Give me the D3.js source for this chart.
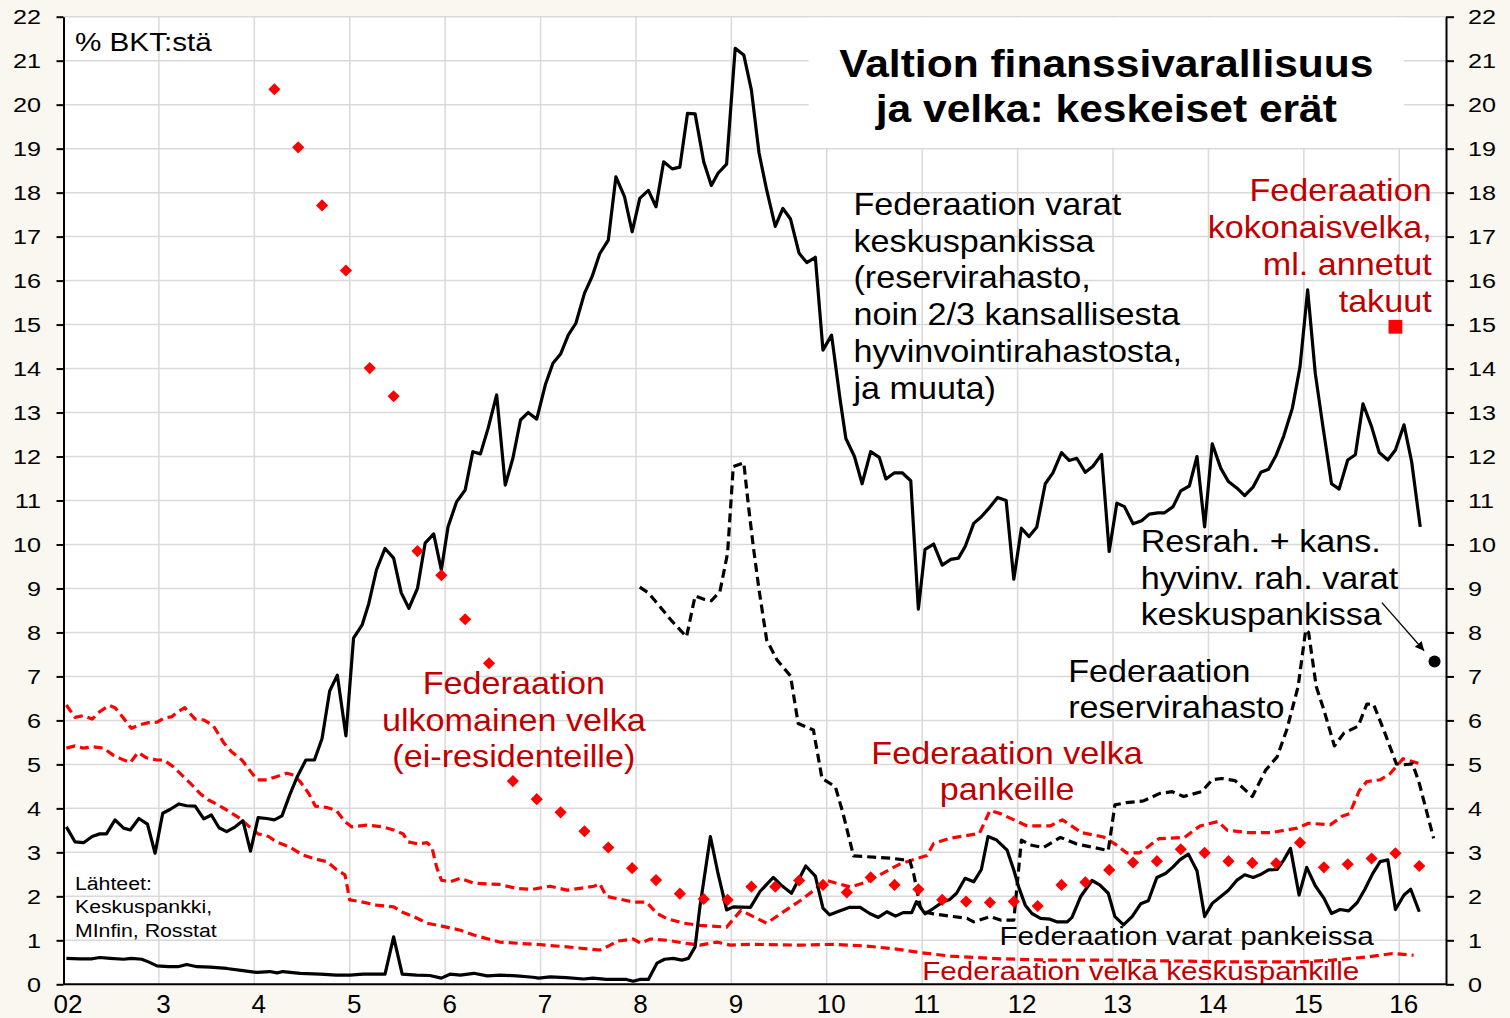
<!DOCTYPE html>
<meta charset="utf-8">
<html>
<head>
<style>
  body { margin: 0; background: #faf6f0; }
  svg { display: block; font-family: 'Liberation Sans', Arial, sans-serif; }
  .grid line { stroke: #d9d9d9; stroke-width: 1.5; }
  .axis path, .axis line { stroke: #000; stroke-width: 2; }
  .axis text { fill: #000; }
</style>
</head>
<body>
<svg id="chart"></svg>
<script src="https://cdn.jsdelivr.net/npm/d3@7/dist/d3.min.js"></script>
<script>

// --- data (year as decimal, % of GDP) ---
var xTickYears = [2002, 2003, 2004, 2005, 2006, 2007, 2008, 2009, 2010, 2011, 2012, 2013, 2014, 2015, 2016];
var xTickLabels = ["02", "3", "4", "5", "6", "7", "8", "9", "10", "11", "12", "13", "14", "15", "16"];
var yTicks = [0, 1, 2, 3, 4, 5, 6, 7, 8, 9, 10, 11, 12, 13, 14, 15, 16, 17, 18, 19, 20, 21, 22];

// Federaation varat keskuspankissa
var varatKeskuspankissa = [
  [2002.03,3.58],[2002.12,3.24],[2002.21,3.22],[2002.30,3.36],[2002.38,3.42],[2002.45,3.42],[2002.54,3.74],[2002.63,3.55],
  [2002.70,3.51],[2002.79,3.77],[2002.88,3.64],[2002.96,2.98],[2003.04,3.89],[2003.12,3.98],[2003.21,4.10],[2003.29,4.06],
  [2003.38,4.05],[2003.47,3.76],[2003.55,3.85],[2003.63,3.56],[2003.71,3.47],[2003.80,3.58],[2003.88,3.72],[2003.96,3.03],
  [2004.04,3.79],[2004.13,3.77],[2004.21,3.74],[2004.29,3.83],[2004.37,4.30],[2004.45,4.72],[2004.54,5.10],[2004.63,5.10],
  [2004.71,5.59],[2004.79,6.67],[2004.87,7.03],[2004.96,5.65],[2005.04,7.87],[2005.13,8.17],[2005.20,8.66],[2005.28,9.42],
  [2005.37,9.91],[2005.46,9.69],[2005.54,8.90],[2005.62,8.55],[2005.71,9.00],[2005.79,10.03],[2005.88,10.24],[2005.96,9.42],
  [2006.03,10.40],[2006.12,10.97],[2006.21,11.24],[2006.29,12.11],[2006.37,12.06],[2006.45,12.64],[2006.54,13.40],[2006.63,11.35],
  [2006.71,11.96],[2006.79,12.83],[2006.87,13.00],[2006.96,12.85],[2007.05,13.63],[2007.13,14.12],[2007.21,14.33],[2007.29,14.76],
  [2007.37,15.03],[2007.46,15.71],[2007.54,16.09],[2007.62,16.61],[2007.71,16.92],[2007.79,18.36],[2007.88,17.91],[2007.96,17.11],
  [2008.04,17.87],[2008.13,18.05],[2008.21,17.68],[2008.29,18.70],[2008.38,18.54],[2008.46,18.58],[2008.54,19.80],[2008.62,19.79],
  [2008.71,18.70],[2008.79,18.16],[2008.86,18.44],[2008.95,18.65],[2009.04,21.28],[2009.13,21.13],[2009.21,20.33],[2009.29,18.90],
  [2009.37,18.06],[2009.46,17.23],[2009.54,17.64],[2009.62,17.40],[2009.71,16.62],[2009.79,16.41],[2009.88,16.53],[2009.96,14.42],
  [2010.05,14.76],[2010.14,13.29],[2010.20,12.41],[2010.29,12.00],[2010.37,11.38],[2010.46,12.11],[2010.55,11.98],[2010.62,11.49],
  [2010.71,11.63],[2010.79,11.63],[2010.88,11.45],[2010.96,8.53],[2011.03,9.89],[2011.12,10.01],[2011.21,9.53],[2011.30,9.66],
  [2011.38,9.69],[2011.45,9.95],[2011.54,10.48],[2011.62,10.63],[2011.71,10.85],[2011.79,11.07],[2011.88,11.00],[2011.96,9.21],
  [2012.04,10.37],[2012.12,10.18],[2012.20,10.39],[2012.29,11.38],[2012.37,11.63],[2012.46,12.09],[2012.54,11.91],[2012.62,11.96],
  [2012.71,11.64],[2012.79,11.78],[2012.88,12.05],[2012.96,9.84],[2013.04,10.94],[2013.12,10.86],[2013.21,10.47],[2013.30,10.54],
  [2013.38,10.69],[2013.47,10.72],[2013.54,10.72],[2013.63,10.86],[2013.71,11.22],[2013.80,11.33],[2013.88,12.00],[2013.96,10.40],
  [2014.04,12.29],[2014.13,11.73],[2014.21,11.43],[2014.30,11.28],[2014.38,11.11],[2014.47,11.31],[2014.55,11.64],[2014.63,11.71],
  [2014.71,12.03],[2014.79,12.47],[2014.88,13.10],[2014.96,14.04],[2015.04,15.79],[2015.12,13.89],[2015.20,12.68],[2015.29,11.38],
  [2015.37,11.26],[2015.46,11.92],[2015.54,12.04],[2015.62,13.20],[2015.71,12.68],[2015.79,12.09],[2015.88,11.92],[2015.96,12.15],
  [2016.05,12.72],[2016.13,11.88],[2016.22,10.40]
];

// Federaation varat pankeissa
var varatPankeissa = [
  [2002.03,0.59],[2002.17,0.58],[2002.30,0.58],[2002.38,0.61],[2002.49,0.59],[2002.63,0.57],[2002.71,0.59],[2002.82,0.57],
  [2002.89,0.51],[2002.98,0.42],[2003.10,0.40],[2003.20,0.40],[2003.29,0.45],[2003.40,0.40],[2003.54,0.39],[2003.71,0.36],
  [2003.88,0.31],[2004.03,0.27],[2004.16,0.29],[2004.24,0.26],[2004.30,0.29],[2004.48,0.25],[2004.69,0.23],[2004.86,0.21],
  [2005.00,0.21],[2005.14,0.23],[2005.37,0.23],[2005.46,1.08],[2005.55,0.23],[2005.70,0.21],[2005.84,0.20],[2005.96,0.14],
  [2006.05,0.23],[2006.16,0.21],[2006.30,0.25],[2006.44,0.19],[2006.58,0.21],[2006.75,0.19],[2006.92,0.16],[2006.98,0.14],
  [2007.10,0.17],[2007.27,0.15],[2007.45,0.12],[2007.55,0.14],[2007.69,0.11],[2007.90,0.11],[2007.97,0.07],[2008.04,0.11],
  [2008.13,0.11],[2008.22,0.48],[2008.30,0.57],[2008.39,0.59],[2008.48,0.55],[2008.55,0.59],[2008.62,0.85],[2008.67,1.76],
  [2008.78,3.36],[2008.86,2.52],[2008.95,1.69],[2009.02,1.76],[2009.20,1.75],[2009.30,2.11],[2009.44,2.43],[2009.53,2.24],
  [2009.63,2.07],[2009.78,2.69],[2009.88,2.46],[2009.96,1.73],[2010.03,1.58],[2010.14,1.67],[2010.24,1.75],[2010.35,1.75],
  [2010.45,1.61],[2010.54,1.52],[2010.63,1.65],[2010.72,1.55],[2010.80,1.63],[2010.89,1.63],[2010.94,1.88],[2011.03,1.60],
  [2011.12,1.73],[2011.22,1.88],[2011.29,1.93],[2011.36,2.07],[2011.45,2.41],[2011.54,2.33],[2011.62,2.61],[2011.69,3.36],
  [2011.78,3.28],[2011.89,3.05],[2011.96,2.60],[2012.01,2.22],[2012.08,1.80],[2012.15,1.61],[2012.24,1.50],[2012.34,1.48],
  [2012.41,1.42],[2012.52,1.42],[2012.57,1.52],[2012.66,1.99],[2012.78,2.36],[2012.86,2.26],[2012.95,2.07],[2013.02,1.54],
  [2013.11,1.35],[2013.20,1.54],[2013.29,1.83],[2013.37,1.90],[2013.46,2.43],[2013.55,2.52],[2013.63,2.67],[2013.70,2.83],
  [2013.79,2.96],[2013.88,2.58],[2013.96,1.54],[2014.04,1.84],[2014.12,1.98],[2014.21,2.14],[2014.30,2.37],[2014.38,2.49],
  [2014.47,2.43],[2014.54,2.49],[2014.63,2.60],[2014.72,2.61],[2014.79,2.83],[2014.86,3.09],[2014.95,2.03],[2015.03,2.66],
  [2015.12,2.24],[2015.21,1.96],[2015.29,1.61],[2015.38,1.70],[2015.47,1.67],[2015.56,1.86],[2015.64,2.16],[2015.72,2.51],
  [2015.80,2.79],[2015.88,2.83],[2015.96,1.70],[2016.05,2.03],[2016.12,2.16],[2016.21,1.65]
];

// Federaation reservirahasto
var reservirahasto = [
  [2008.04,9.03],[2008.13,8.90],[2008.25,8.59],[2008.38,8.25],[2008.53,7.90],[2008.62,8.83],[2008.72,8.75],[2008.79,8.72],
  [2008.88,8.93],[2008.96,9.80],[2009.02,11.77],[2009.13,11.86],[2009.18,10.86],[2009.23,9.95],[2009.29,8.97],[2009.37,7.83],
  [2009.48,7.37],[2009.62,7.01],[2009.70,5.93],[2009.86,5.78],[2009.95,4.68],[2010.09,4.49],[2010.17,3.89],[2010.28,2.92],
  [2010.49,2.89],[2010.66,2.87],[2010.87,2.81],[2010.91,2.52],[2010.98,1.76],[2011.01,1.65],[2011.12,1.60],[2011.47,1.50],
  [2011.54,1.42],[2011.71,1.54],[2011.82,1.46],[2011.96,1.46],[2012.04,3.28],[2012.13,3.17],[2012.27,3.11],[2012.45,3.34],
  [2012.62,3.19],[2012.80,3.11],[2012.95,3.04],[2013.02,4.08],[2013.14,4.13],[2013.32,4.17],[2013.49,4.34],[2013.62,4.38],
  [2013.74,4.27],[2013.93,4.38],[2014.04,4.65],[2014.14,4.68],[2014.28,4.63],[2014.46,4.27],[2014.60,4.87],[2014.72,5.17],
  [2014.82,5.78],[2014.94,6.77],[2015.02,8.06],[2015.05,8.00],[2015.13,6.77],[2015.21,6.24],[2015.32,5.42],[2015.42,5.71],
  [2015.57,5.87],[2015.66,6.37],[2015.73,6.37],[2015.85,5.71],[2015.97,5.01],[2016.04,4.99],[2016.14,5.01],[2016.21,4.57],
  [2016.36,3.32]
];

// Federaation velka pankeille
var velkaPankeille = [
  [2002.03,6.35],[2002.12,6.07],[2002.21,6.11],[2002.30,6.03],[2002.38,6.20],[2002.48,6.34],[2002.54,6.29],[2002.63,6.05],
  [2002.71,5.82],[2002.80,5.90],[2002.89,5.95],[2002.98,5.96],[2003.06,6.06],[2003.13,6.08],[2003.20,6.20],[2003.27,6.29],
  [2003.38,6.03],[2003.47,6.01],[2003.57,5.88],[2003.68,5.49],[2003.76,5.29],[2003.87,5.10],[2003.95,4.87],[2004.03,4.65],
  [2004.13,4.65],[2004.23,4.72],[2004.34,4.80],[2004.41,4.76],[2004.48,4.61],[2004.57,4.34],[2004.64,4.05],[2004.76,4.02],
  [2004.86,3.95],[2004.95,3.70],[2005.02,3.58],[2005.18,3.62],[2005.34,3.58],[2005.46,3.51],[2005.56,3.42],[2005.61,3.24],
  [2005.72,3.19],[2005.81,3.22],[2005.86,3.13],[2005.91,2.67],[2005.96,2.37],[2006.05,2.33],[2006.16,2.41],[2006.30,2.30],
  [2006.57,2.27],[2006.75,2.18],[2006.92,2.16],[2007.10,2.23],[2007.28,2.14],[2007.56,2.23],[2007.62,2.29],[2007.69,2.00],
  [2007.80,1.95],[2007.97,1.87],[2008.11,1.87],[2008.22,1.61],[2008.33,1.49],[2008.50,1.39],[2008.67,1.34],[2008.95,1.30],
  [2009.10,1.68],[2009.37,1.39],[2009.72,1.90],[2010.00,2.36],[2010.25,2.21],[2010.42,2.33],[2010.77,2.74],[2011.05,2.93],
  [2011.12,3.20],[2011.29,3.32],[2011.60,3.43],[2011.71,3.95],[2011.82,3.88],[2012.10,3.60],[2012.34,3.60],[2012.47,3.74],
  [2012.67,3.45],[2012.90,3.35],[2013.05,3.15],[2013.14,2.99],[2013.28,2.99],[2013.48,3.31],[2013.75,3.34],[2013.91,3.60],
  [2014.10,3.70],[2014.20,3.50],[2014.43,3.45],[2014.66,3.45],[2014.93,3.55],[2015.05,3.66],[2015.28,3.63],[2015.40,3.82],
  [2015.48,3.88],[2015.58,4.40],[2015.66,4.61],[2015.80,4.65],[2015.90,4.78],[2016.04,5.13],[2016.21,5.02]
];

// Federaation velka keskuspankille
var velkaKeskuspankille = [
  [2002.03,5.37],[2002.12,5.42],[2002.21,5.37],[2002.31,5.40],[2002.42,5.37],[2002.52,5.21],[2002.61,5.12],[2002.70,5.04],
  [2002.78,5.27],[2002.87,5.15],[2002.98,5.10],[2003.05,5.10],[2003.15,4.95],[2003.22,4.80],[2003.33,4.57],[2003.43,4.34],
  [2003.52,4.19],[2003.62,4.08],[2003.75,3.91],[2003.85,3.77],[2003.95,3.58],[2004.04,3.42],[2004.15,3.36],[2004.23,3.24],
  [2004.37,3.12],[2004.51,2.94],[2004.64,2.85],[2004.76,2.79],[2004.86,2.61],[2004.95,2.49],[2005.00,1.92],[2005.11,1.88],
  [2005.28,1.80],[2005.46,1.76],[2005.56,1.63],[2005.67,1.54],[2005.81,1.39],[2005.95,1.33],[2006.16,1.23],[2006.30,1.12],
  [2006.57,0.96],[2007.00,0.90],[2007.28,0.85],[2007.62,0.78],[2007.73,0.89],[2007.80,0.98],[2007.97,1.03],[2008.05,0.93],
  [2008.15,1.03],[2008.33,1.00],[2008.53,0.93],[2008.67,0.89],[2008.85,0.96],[2008.99,0.89],[2009.20,0.91],[2009.72,0.89],
  [2010.07,0.91],[2010.42,0.87],[2010.77,0.79],[2010.98,0.72],[2011.30,0.64],[2011.82,0.58],[2012.34,0.55],[2013.00,0.55],
  [2014.25,0.51],[2014.95,0.51],[2015.30,0.55],[2015.66,0.62],[2015.93,0.70],[2016.15,0.66]
];

// Federaation ulkomainen velka (quarterly)
var ulkomainenStart = 2004.21;
var ulkomainenVelka = [
  20.35, 19.03, 17.71, 16.23, 14.01, 13.37, 9.85, 9.30, 8.30, 7.30, 4.62, 4.21, 3.91, 3.48, 3.11, 2.64,
  2.37, 2.06, 1.94, 1.92, 2.22, 2.22, 2.36, 2.26, 2.09, 2.43, 2.26, 2.16, 1.92, 1.88, 1.86, 1.88,
  1.78, 2.26, 2.32, 2.60, 2.77, 2.80, 3.07, 2.99, 2.80, 2.76, 2.75, 3.22, 2.66, 2.73, 2.86, 2.98, 2.69
];

// single points
var kokonaisvelka = [[2015.96, 14.95]];
var resrahKans = [[2016.37, 7.34]];

// --- layout ---
var W = 1510, H = 1018;
var margin = { top: 16.7, right: 64, bottom: 33.7, left: 63.5 };
var width = W - margin.left - margin.right,
    height = H - margin.top - margin.bottom;
var sx = 1.12; // text is slightly wider than the font

var svg = d3.select("#chart").attr("width", W).attr("height", H);
svg.append("rect").attr("width", W).attr("height", H).attr("fill", "#faf6f0");

var x = d3.scaleLinear().domain([2002, 2016.49]).range([margin.left, margin.left + width]);
var y = d3.scaleLinear().domain([0, 22]).range([margin.top + height, margin.top]);

// plot area
svg.append("rect")
  .attr("x", x(2002)).attr("y", y(22))
  .attr("width", x(2016.49) - x(2002)).attr("height", y(0) - y(22))
  .attr("fill", "#fff");

// gridlines
var grid = svg.append("g").attr("class", "grid");
grid.selectAll(".h").data(yTicks.slice(1)).enter().append("line")
  .attr("x1", x(2002)).attr("x2", x(2016.49))
  .attr("y1", function (d) { return y(d); }).attr("y2", function (d) { return y(d); });
grid.selectAll(".v").data(xTickYears.slice(1)).enter().append("line")
  .attr("y1", y(0)).attr("y2", y(22))
  .attr("x1", function (d) { return x(d); }).attr("x2", function (d) { return x(d); });

// white box behind title
svg.append("rect")
  .attr("x", x(2009.81)).attr("y", y(21.98))
  .attr("width", x(2016.05) - x(2009.81)).attr("height", y(19.02) - y(21.98))
  .attr("fill", "#fff");

// text helper
function label(lines, pos, o) {
  var t = svg.append("text")
    .attr("transform", "translate(" + x(pos[0]) + "," + y(pos[1]) + ") scale(" + (o.sx || sx) + ",1)")
    .attr("text-anchor", o.anchor || "start")
    .attr("fill", o.color || "#000")
    .attr("font-size", o.size)
    .attr("font-weight", o.weight || "normal");
  lines.forEach(function (s, i) {
    t.append("tspan").attr("x", 0).attr("dy", i ? o.lh : 0).text(s);
  });
}

var red = "#c00000";
label(["Federaation varat", "keskuspankissa", "(reservirahasto,", "noin 2/3 kansallisesta", "hyvinvointirahastosta,", "ja muuta)"],
  [2010.28, 17.49], { size: 30.5, lh: 36.7 });
label(["Federaation", "kokonaisvelka,", "ml. annetut", "takuut"], [2016.34, 17.81], { size: 30.5, lh: 37, anchor: "end", color: red });
label(["Resrah. + kans.", "hyvinv. rah. varat", "keskuspankissa"], [2013.29, 9.83], { size: 30.5, lh: 36.7 });
label(["Federaation", "reservirahasto"], [2012.53, 6.87], { size: 30.5, lh: 36 });
label(["Federaation", "ulkomainen velka", "(ei-residenteille)"], [2006.72, 6.6], { size: 30.5, lh: 36.5, anchor: "middle", color: red });
label(["Federaation velka", "pankeille"], [2011.89, 5.01], { size: 30.5, lh: 36.5, anchor: "middle", color: red });
label(["Federaation varat pankeissa"], [2011.81, 0.89], { size: 26.5 });
label(["Federaation velka keskuspankille"], [2011.0, 0.1], { size: 26.5, color: red });
label(["Lähteet:", "Keskuspankki,", "MInfin, Rosstat"], [2002.12, 2.14], { size: 19, lh: 23.3 });
label(["% BKT:stä"], [2002.12, 21.22], { size: 26.5 });
label(["Valtion finanssivarallisuus", "ja velka: keskeiset erät"], [2012.93, 20.64], { size: 38, lh: 45, anchor: "middle", weight: "bold" });

// lines
var line = d3.line()
  .x(function (d) { return x(d[0]); })
  .y(function (d) { return y(d[1]); });

function drawLine(data, color, dash) {
  svg.append("path").datum(data)
    .attr("d", line)
    .attr("fill", "none")
    .attr("stroke", color)
    .attr("stroke-width", 3.2)
    .attr("stroke-linejoin", "round")
    .attr("stroke-dasharray", dash || null);
}

drawLine(velkaKeskuspankille, "#ff0000", "9,5");
drawLine(velkaPankeille, "#ff0000", "9,5");
drawLine(reservirahasto, "#000", "9,5");
drawLine(varatPankeissa, "#000");
drawLine(varatKeskuspankissa, "#000");

// diamonds
var diamond = d3.symbol().type(d3.symbolSquare).size(74);
svg.selectAll(".dia").data(ulkomainenVelka).enter().append("path")
  .attr("d", diamond)
  .attr("fill", "#ff0000")
  .attr("transform", function (d, i) {
    return "translate(" + x(ulkomainenStart + i * 0.25) + "," + y(d) + ") rotate(45)";
  });

// total debt square
svg.selectAll(".sq").data(kokonaisvelka).enter().append("path")
  .attr("d", d3.symbol().type(d3.symbolSquare).size(190))
  .attr("fill", "#ff0000")
  .attr("transform", function (d) { return "translate(" + x(d[0]) + "," + y(d[1]) + ")"; });

// resrah + kans dot
svg.selectAll(".dot").data(resrahKans).enter().append("circle")
  .attr("cx", function (d) { return x(d[0]); })
  .attr("cy", function (d) { return y(d[1]); })
  .attr("r", 6)
  .attr("fill", "#000");

// arrow to the dot
svg.append("defs").append("marker")
  .attr("id", "arrow").attr("viewBox", "0 0 10 10")
  .attr("refX", 10).attr("refY", 5)
  .attr("markerWidth", 9).attr("markerHeight", 9)
  .attr("markerUnits", "userSpaceOnUse")
  .attr("orient", "auto")
  .append("path").attr("d", "M0,0 L10,5 L0,10 z").attr("fill", "#000");
svg.append("line")
  .attr("x1", x(2015.818)).attr("y1", y(8.677))
  .attr("x2", x(2016.261)).attr("y2", y(7.585))
  .attr("stroke", "#000").attr("stroke-width", 1.3)
  .attr("marker-end", "url(#arrow)");

// axes
var gl = svg.append("g").attr("class", "axis")
  .attr("transform", "translate(" + x(2002) + ",0)")
  .call(d3.axisLeft(y).tickValues(yTicks).tickSize(7).tickSizeOuter(0));
gl.selectAll("text").attr("x", -22.5 / 1.2).attr("transform", "scale(1.2,1)").attr("font-size", 21)
  .attr("font-family", "'Liberation Sans', Arial, sans-serif");

var gr = svg.append("g").attr("class", "axis")
  .attr("transform", "translate(" + x(2016.49) + ",0)")
  .call(d3.axisRight(y).tickValues(yTicks).tickSize(8).tickSizeOuter(0));
gr.selectAll("text").attr("x", 22 / 1.2).attr("transform", "scale(1.2,1)").attr("font-size", 21)
  .attr("font-family", "'Liberation Sans', Arial, sans-serif");

var gb = svg.append("g").attr("class", "axis")
  .attr("transform", "translate(0," + y(0) + ")")
  .call(d3.axisBottom(x).tickValues(xTickYears).tickSize(0).tickSizeOuter(0).tickPadding(10)
    .tickFormat(function (d, i) { return xTickLabels[i]; }));
gb.selectAll("text").attr("x", 4).attr("font-size", 26)
  .attr("font-family", "'Liberation Sans', Arial, sans-serif");
gb.select(".domain").attr("d", "M" + x(2002) + ",0H" + x(2016.49));

</script>
</body>
</html>
